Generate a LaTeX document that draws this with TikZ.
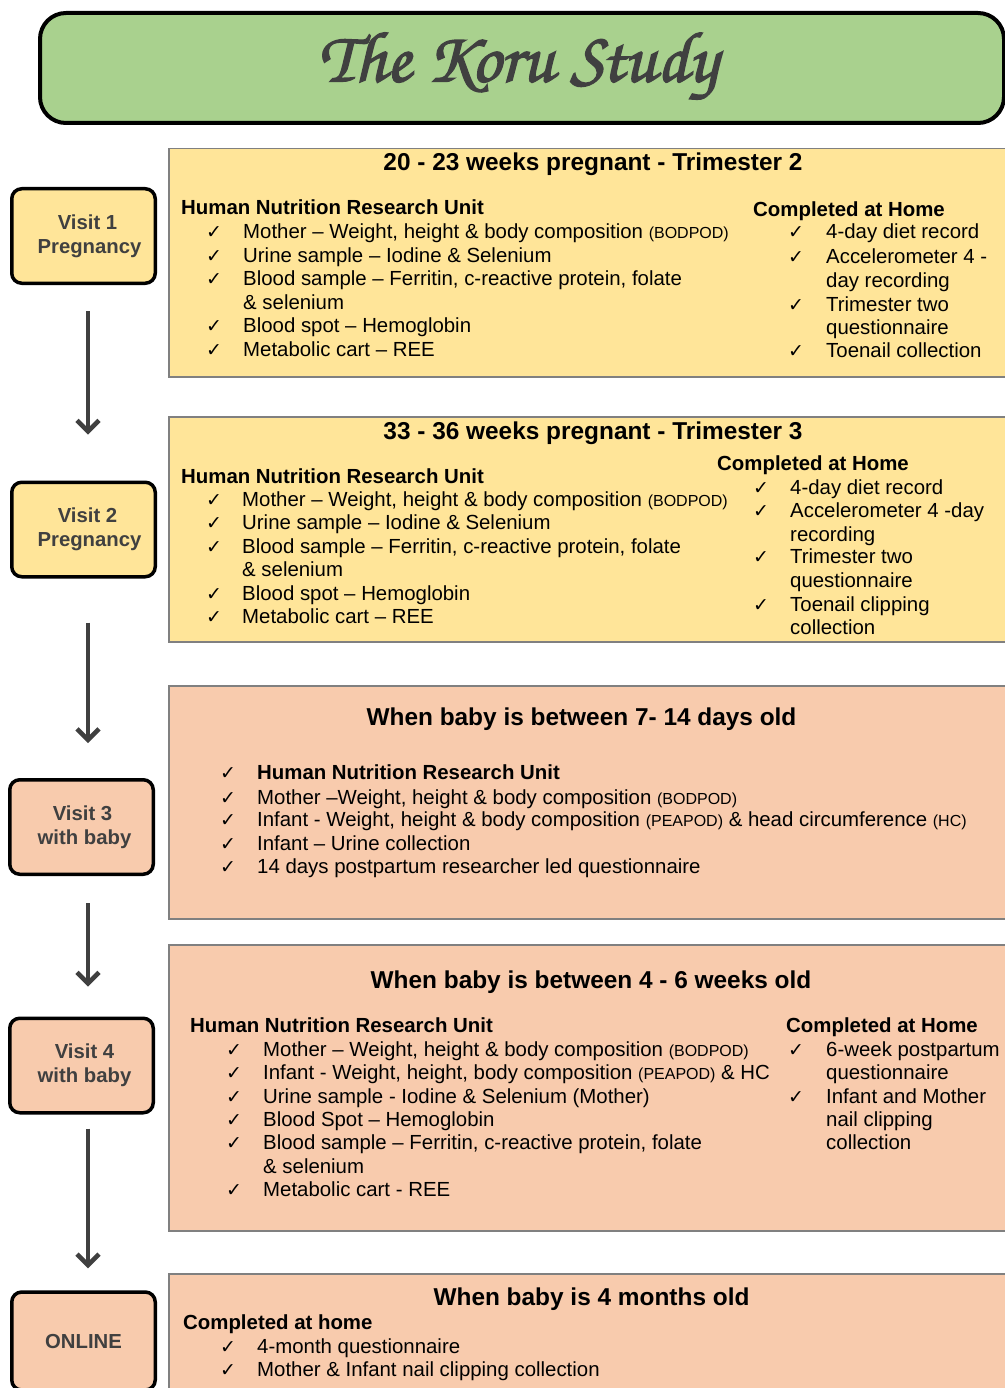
\documentclass[tikz,border=0pt]{standalone}
\usepackage{fontspec}
\setmainfont{Liberation Sans}
\newfontfamily\ckfont{DejaVu Sans}
\newfontfamily\chorus[FakeBold=2]{texgyrechorus-mediumitalic.otf}
\usetikzlibrary{arrows.meta}
\definecolor{titlegreen}{HTML}{A9D18E}
\definecolor{yel}{HTML}{FFE599}
\definecolor{sal}{HTML}{F8CBAD}
\definecolor{dk}{HTML}{404040}
\definecolor{bordergray}{HTML}{808080}
\newcommand\sm[1]{{\fontsize{16}{16}\selectfont #1}}
\newcommand\Item[5]{\node[chk] (#1c) at (#2,#4) {✓};\node[txt] (#1) at (#3,#4) {#5};}
\begin{document}
\begin{tikzpicture}[x=1pt,y=-1pt,
  visit/.style={draw=black, fill=#1, line width=3.5pt, rounded corners=10pt,
    minimum width=143.5pt, minimum height=94.5pt, inner sep=0pt, align=center,
    text=dk, font=\fontsize{20.3}{24}\selectfont\bfseries},
  panel/.style={draw=bordergray, fill=#1, line width=1.5pt, anchor=north west, inner sep=0pt},
  head/.style={font=\fontsize{24.4}{28}\selectfont\bfseries, anchor=base, inner sep=0pt},
  sub/.style={font=\fontsize{20.4}{24}\selectfont\bfseries, anchor=base west, inner sep=0pt},
  txt/.style={font=\fontsize{20.4}{24}\selectfont, anchor=base west, inner sep=0pt},
  chk/.style={font=\ckfont\fontsize{19}{19}\selectfont, anchor=base west, inner sep=0pt},
  arr/.style={draw=dk, line width=4.5pt, -{Straight Barb[length=11pt,width=22pt]}}
]
\path[use as bounding box] (0,0) rectangle (1004,1388);

% title
\node[draw=black, fill=titlegreen, line width=4pt, rounded corners=26pt,
  minimum width=964pt, minimum height=110pt, anchor=north west, inner sep=0pt] (title) at (38,11) {};
\node[text=dk, font=\chorus\fontsize{72}{72}\selectfont] (titletext) at (518,66) {The Koru Study};

% panels
\node[panel=yel, minimum width=842pt, minimum height=228pt] (p1) at (168,148) {};
\node[panel=yel, minimum width=842pt, minimum height=225pt] (p2) at (168,416) {};
\node[panel=sal, minimum width=842pt, minimum height=233pt] (p3) at (168,685) {};
\node[panel=sal, minimum width=842pt, minimum height=286pt] (p4) at (168,944) {};
\node[panel=sal, minimum width=842pt, minimum height=125pt] (p5) at (168,1273) {};

% visit boxes
\node[visit=yel] (v1) at (83.5,236) {\hspace*{8pt}Visit 1\\\hspace*{12pt}Pregnancy};
\node[visit=yel] (v2) at (83.5,529.5) {\hspace*{8pt}Visit 2\\\hspace*{12pt}Pregnancy};
\node[visit=sal] (v3) at (81.5,827) {\hspace*{2pt}Visit 3\\\hspace*{6pt}with baby};
\node[visit=sal] (v4) at (81.5,1065.5) {\hspace*{6pt}Visit 4\\\hspace*{6pt}with baby};
\node[visit=sal, minimum height=98pt] (v5) at (83.5,1341) {ONLINE};

% arrows
\draw[arr, shorten <=26pt, shorten >=46pt] ([xshift=4.5pt]v1.south) -- ([xshift=4.5pt]v2.north);
\draw[arr, shorten <=44pt, shorten >=35pt] ([xshift=4.5pt]v2.south) -- ([xshift=6.5pt]v3.north);
\draw[arr, shorten <=27pt, shorten >=30pt] ([xshift=6.5pt]v3.south) -- ([xshift=6.5pt]v4.north);
\draw[arr, shorten <=14pt, shorten >=22pt] ([xshift=6.5pt]v4.south) -- ([xshift=4.5pt]v5.north);

% panel 1
\node[head] (h1) at (593,171) {20 - 23 weeks pregnant - Trimester 2};
\node[sub] (s1a) at (181,215) {Human Nutrition Research Unit};
\Item{a1}{206}{243}{239}{Mother – Weight, height \& body composition \sm{(BODPOD)}}
\Item{a2}{206}{243}{262}{Urine sample – Iodine \& Selenium}
\Item{a3}{206}{243}{285}{Blood sample – Ferritin, c-reactive protein, folate}
\node[txt] (a3b) at (243,309) {\& selenium};
\Item{a4}{206}{243}{332}{Blood spot – Hemoglobin}
\Item{a5}{206}{243}{356}{Metabolic cart – REE}
\node[sub] (s1b) at (753,217) {Completed at Home};
\Item{b1}{788}{826}{239}{4-day diet record}
\Item{b2}{788}{826}{263}{Accelerometer 4 -}
\node[txt] (b2b) at (826,287) {day recording};
\Item{b3}{788}{826}{311}{Trimester two}
\node[txt] (b3b) at (826,334) {questionnaire};
\Item{b4}{788}{826}{357}{Toenail collection}

% panel 2
\node[head] (h2) at (593,439) {33 - 36 weeks pregnant - Trimester 3};
\node[sub] (s2a) at (181,483) {Human Nutrition Research Unit};
\Item{c1}{206}{242}{506}{Mother – Weight, height \& body composition \sm{(BODPOD)}}
\Item{c2}{206}{242}{529}{Urine sample – Iodine \& Selenium}
\Item{c3}{206}{242}{553}{Blood sample – Ferritin, c-reactive protein, folate}
\node[txt] (c3b) at (242,576) {\& selenium};
\Item{c4}{206}{242}{600}{Blood spot – Hemoglobin}
\Item{c5}{206}{242}{623}{Metabolic cart – REE}
\node[sub] (s2b) at (717,470) {Completed at Home};
\Item{d1}{753}{790}{494}{4-day diet record}
\Item{d2}{753}{790}{517}{Accelerometer 4 -day}
\node[txt] (d2b) at (790,541) {recording};
\Item{d3}{753}{790}{563}{Trimester two}
\node[txt] (d3b) at (790,587) {questionnaire};
\Item{d4}{753}{790}{611}{Toenail clipping}
\node[txt] (d4b) at (790,634) {collection};

% panel 3
\node[head] (h3) at (581.5,725) {When baby is between 7- 14 days old};
\Item{e1}{220}{257}{779}{\bfseries Human Nutrition Research Unit}
\Item{e2}{220}{257}{804}{Mother –Weight, height \& body composition \sm{(BODPOD)}}
\Item{e3}{220}{257}{826}{Infant - Weight, height \& body composition \sm{(PEAPOD)} \& head circumference \sm{(HC)}}
\Item{e4}{220}{257}{850}{Infant – Urine collection}
\Item{e5}{220}{257}{873}{14 days postpartum researcher led questionnaire}

% panel 4
\node[head] (h4) at (591,988) {When baby is between 4 - 6 weeks old};
\node[sub] (s4a) at (190,1032) {Human Nutrition Research Unit};
\Item{f1}{226}{263}{1056}{Mother – Weight, height \& body composition \sm{(BODPOD)}}
\Item{f2}{226}{263}{1079}{Infant - Weight, height, body composition \sm{(PEAPOD)} \& HC}
\Item{f3}{226}{263}{1103}{Urine sample - Iodine \& Selenium (Mother)}
\Item{f4}{226}{263}{1126}{Blood Spot – Hemoglobin}
\Item{f5}{226}{263}{1149}{Blood sample – Ferritin, c-reactive protein, folate}
\node[txt] (f5b) at (263,1173) {\& selenium};
\Item{f6}{226}{263}{1196}{Metabolic cart - REE}
\node[sub] (s4b) at (786,1032) {Completed at Home};
\Item{g1}{788}{826}{1056}{6-week postpartum}
\node[txt] (g1b) at (826,1079) {questionnaire};
\Item{g2}{788}{826}{1103}{Infant and Mother}
\node[txt] (g2b) at (826,1126) {nail clipping};
\node[txt] (g2c) at (826,1149) {collection};

% panel 5
\node[head] (h5) at (591.5,1305) {When baby is 4 months old};
\node[sub] (s5) at (183,1329) {Completed at home};
\Item{k1}{220}{257}{1353}{4-month questionnaire}
\Item{k2}{220}{257}{1376}{Mother \& Infant nail clipping collection}
\end{tikzpicture}
\end{document}
